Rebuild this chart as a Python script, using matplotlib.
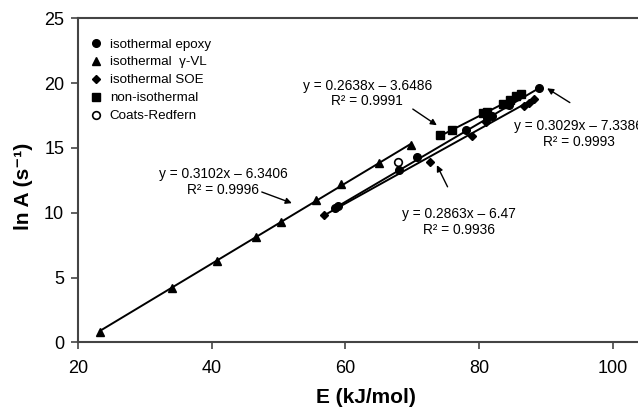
import matplotlib
matplotlib.use("Agg")
import matplotlib.pyplot as plt
import numpy as np

plt.rcParams['font.family'] = ['Liberation Sans', 'DejaVu Sans']

# data
E_epoxy = [58.4, 58.9, 68.0, 70.8, 78.0, 81.2, 82.0, 84.5, 89.0]
lnA_epoxy = [10.4, 10.5, 13.3, 14.3, 16.4, 17.3, 17.5, 18.3, 19.6]

E_vl = [23.3, 34.0, 40.8, 46.6, 50.4, 55.6, 59.4, 65.1, 69.8]
lnA_vl = [0.8, 4.2, 6.3, 8.1, 9.3, 11.0, 12.2, 13.8, 15.2]

E_soe = [56.8, 72.6, 78.9, 81.0, 86.8, 87.5, 88.3]
lnA_soe = [9.8, 13.9, 15.9, 17.0, 18.2, 18.5, 18.8]

E_noniso = [74.2, 75.9, 80.6, 81.2, 83.6, 84.6, 85.5, 86.3]
lnA_noniso = [16.0, 16.4, 17.7, 17.8, 18.4, 18.7, 19.0, 19.2]

E_cr = [67.9]
lnA_cr = [13.9]

# trendlines as printed on the chart
slope_epoxy, icpt_epoxy = 0.3029, -7.3386
slope_vl, icpt_vl = 0.3102, -6.3406
slope_soe, icpt_soe = 0.2863, -6.47
slope_noniso, icpt_noniso = 0.2638, -3.6486

fig = plt.figure(figsize=(6.38, 4.08), dpi=100)
ax = fig.add_axes([0.1223, 0.161, 0.8777, 0.794])


def trend(xs, m, b):
    x = np.array([min(xs), max(xs)])
    ax.plot(x, m * x + b, color='black', lw=1.4, zorder=2)


trend(E_vl, slope_vl, icpt_vl)
trend(E_epoxy, slope_epoxy, icpt_epoxy)
trend(E_soe, slope_soe, icpt_soe)
trend(E_noniso, slope_noniso, icpt_noniso)

ms = 5.5
ax.plot(E_epoxy, lnA_epoxy, 'o', color='black', ms=ms, ls='none', label='isothermal epoxy', zorder=3)
ax.plot(E_vl, lnA_vl, '^', color='black', ms=ms + 0.5, ls='none', label='isothermal  \u03b3-VL', zorder=3)
ax.plot(E_soe, lnA_soe, 'D', color='black', ms=ms - 1, ls='none', label='isothermal SOE', zorder=3)
ax.plot(E_noniso, lnA_noniso, 's', color='black', ms=ms, ls='none', label='non-isothermal', zorder=3)
ax.plot(E_cr, lnA_cr, 'o', mfc='white', mec='black', mew=1.2, ms=ms, ls='none', label='Coats-Redfern', zorder=3)

ax.set_xlim(20, 103.8)
ax.set_ylim(0, 25)
ax.set_xticks([20, 40, 60, 80, 100])
ax.set_yticks([0, 5, 10, 15, 20, 25])
ax.tick_params(labelsize=13, length=5, width=1.2, color='#444444', pad=5)
ax.tick_params(axis='x', pad=8)
ax.spines['right'].set_visible(False)
for s in ['left', 'bottom', 'top']:
    ax.spines[s].set_linewidth(1.5)
    ax.spines[s].set_color('#444444')

ax.set_xlabel('E (kJ/mol)', fontsize=15, fontweight='bold')
ax.xaxis.set_label_coords(0.514, -0.142)
ax.set_ylabel('ln A (s\u207b\u00b9)', fontsize=15, fontweight='bold')
ax.yaxis.set_label_coords(-0.080, 0.481)

leg = ax.legend(loc='upper left', bbox_to_anchor=(-0.004, 0.98), frameon=False,
                fontsize=9.6, handlelength=1.0, handletextpad=0.55, labelspacing=0.42,
                borderaxespad=0.6)

arw = dict(arrowstyle='-|>', color='black', lw=1.0, mutation_scale=9, shrinkA=0, shrinkB=0)
tkw = dict(fontsize=9.9, ha='center', va='center', linespacing=1.15)

ax.annotate('', xy=(52.0, 10.74), xytext=(47.5, 11.6), arrowprops=arw)
ax.text(41.7, 12.36, 'y = 0.3102x \u2013 6.3406\nR\u00b2 = 0.9996', **tkw)

ax.annotate('', xy=(73.7, 16.75), xytext=(70.1, 18.0), arrowprops=arw)
ax.text(63.3, 19.2, 'y = 0.2638x \u2013 3.6486\nR\u00b2 = 0.9991', **tkw)

ax.annotate('', xy=(90.2, 19.6), xytext=(93.6, 18.5), arrowprops=arw)
ax.text(94.9, 16.1, 'y = 0.3029x \u2013 7.3386\nR\u00b2 = 0.9993', clip_on=False, **tkw)

ax.annotate('', xy=(73.7, 13.67), xytext=(75.3, 12.0), arrowprops=arw)
ax.text(77.0, 9.28, 'y = 0.2863x \u2013 6.47\nR\u00b2 = 0.9936', **tkw)

fig.savefig('out.png', dpi=100)
